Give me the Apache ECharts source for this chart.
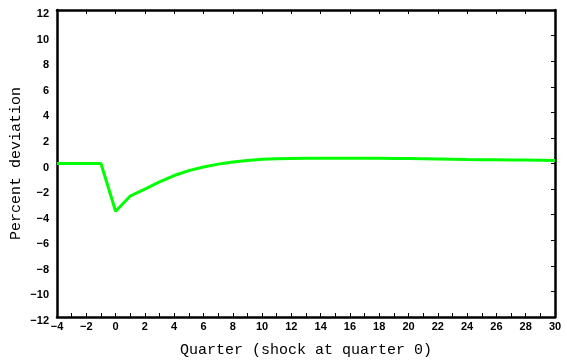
<!DOCTYPE html>
<html>
<head>
<meta charset="utf-8">
<script src="https://cdn.jsdelivr.net/npm/echarts@6/dist/echarts.min.js"></script>
<style>
  html, body { margin: 0; padding: 0; background: #fff; }
  #chart { width: 567px; height: 363px; }
</style>
</head>
<body>
<div id="chart"></div>
<script>
// Impulse response: percent deviation by quarter, shock hits at quarter 0
const quarters = [-4, -3, -2, -1, 0, 1, 2, 3, 4, 5, 6, 7, 8, 9, 10, 11, 12, 13, 14, 15, 16, 17,
  18, 19, 20, 21, 22, 23, 24, 25, 26, 27, 28, 29, 30];
const deviation = [0, 0, 0, 0, -3.73, -2.54, -2.0, -1.44, -0.94, -0.56, -0.27, -0.05, 0.12, 0.24,
  0.33, 0.38, 0.40, 0.41, 0.42, 0.42, 0.42, 0.42, 0.41, 0.40, 0.39, 0.37, 0.35, 0.33, 0.31,
  0.30, 0.29, 0.28, 0.27, 0.25, 0.23];

const xTitle = 'Quarter (shock at quarter 0)';
const yTitle = 'Percent deviation';

const seriesData = quarters.map((q, i) => [q, deviation[i]]);

const minusSign = v => String(v).replace('-', '\u2212');
const tickFont = { color: '#000', fontFamily: 'Liberation Sans', fontSize: 11, fontWeight: 'bold' };
const titleFont = { color: '#000', fontFamily: 'Liberation Mono', fontSize: 15 };
const frameLine = { show: true, onZero: false, lineStyle: { color: '#000', width: 2.5 } };
const inTick = { show: true, inside: true, length: 4, lineStyle: { color: '#000', width: 1 } };

const chart = echarts.init(document.getElementById('chart'), null, { renderer: 'canvas' });
chart.setOption({
  animation: false,
  backgroundColor: '#fff',
  grid: { left: 57, right: 12, top: 10, bottom: 46, containLabel: false, outerBoundsMode: 'none' },
  xAxis: [
    {
      type: 'value', position: 'bottom', min: -4, max: 30, interval: 2,
      axisLine: frameLine,
      axisTick: inTick,
      minorTick: { show: true, splitNumber: 2, length: 4, lineStyle: { color: '#000', width: 1 } },
      splitLine: { show: false },
      axisLabel: Object.assign({ margin: 4, formatter: minusSign }, tickFont),
      name: xTitle, nameLocation: 'middle', nameGap: 26, nameMoveOverlap: false,
      nameTextStyle: titleFont
    },
    {
      type: 'value', position: 'top', min: -4, max: 30, interval: 2,
      axisLine: frameLine, axisTick: inTick,
      axisLabel: { show: false }, splitLine: { show: false }
    }
  ],
  yAxis: [
    {
      type: 'value', position: 'left', min: -12, max: 12, interval: 2,
      axisLine: frameLine,
      axisTick: { show: false },
      splitLine: { show: false },
      axisLabel: Object.assign({ margin: 8, verticalAlign: 'top', lineHeight: 8, formatter: minusSign }, tickFont),
      name: yTitle, nameLocation: 'middle', nameGap: 33, nameMoveOverlap: false,
      nameTextStyle: titleFont
    },
    {
      type: 'value', position: 'right', min: -12, max: 12, interval: 2,
      axisLine: frameLine, axisTick: inTick,
      axisLabel: { show: false }, splitLine: { show: false }
    }
  ],
  series: [
    {
      type: 'line',
      data: seriesData,
      xAxisIndex: 0, yAxisIndex: 0,
      showSymbol: false,
      smooth: false,
      lineStyle: { color: '#00ff00', width: 3 },
      z: 1
    }
  ]
});
</script>
</body>
</html>
